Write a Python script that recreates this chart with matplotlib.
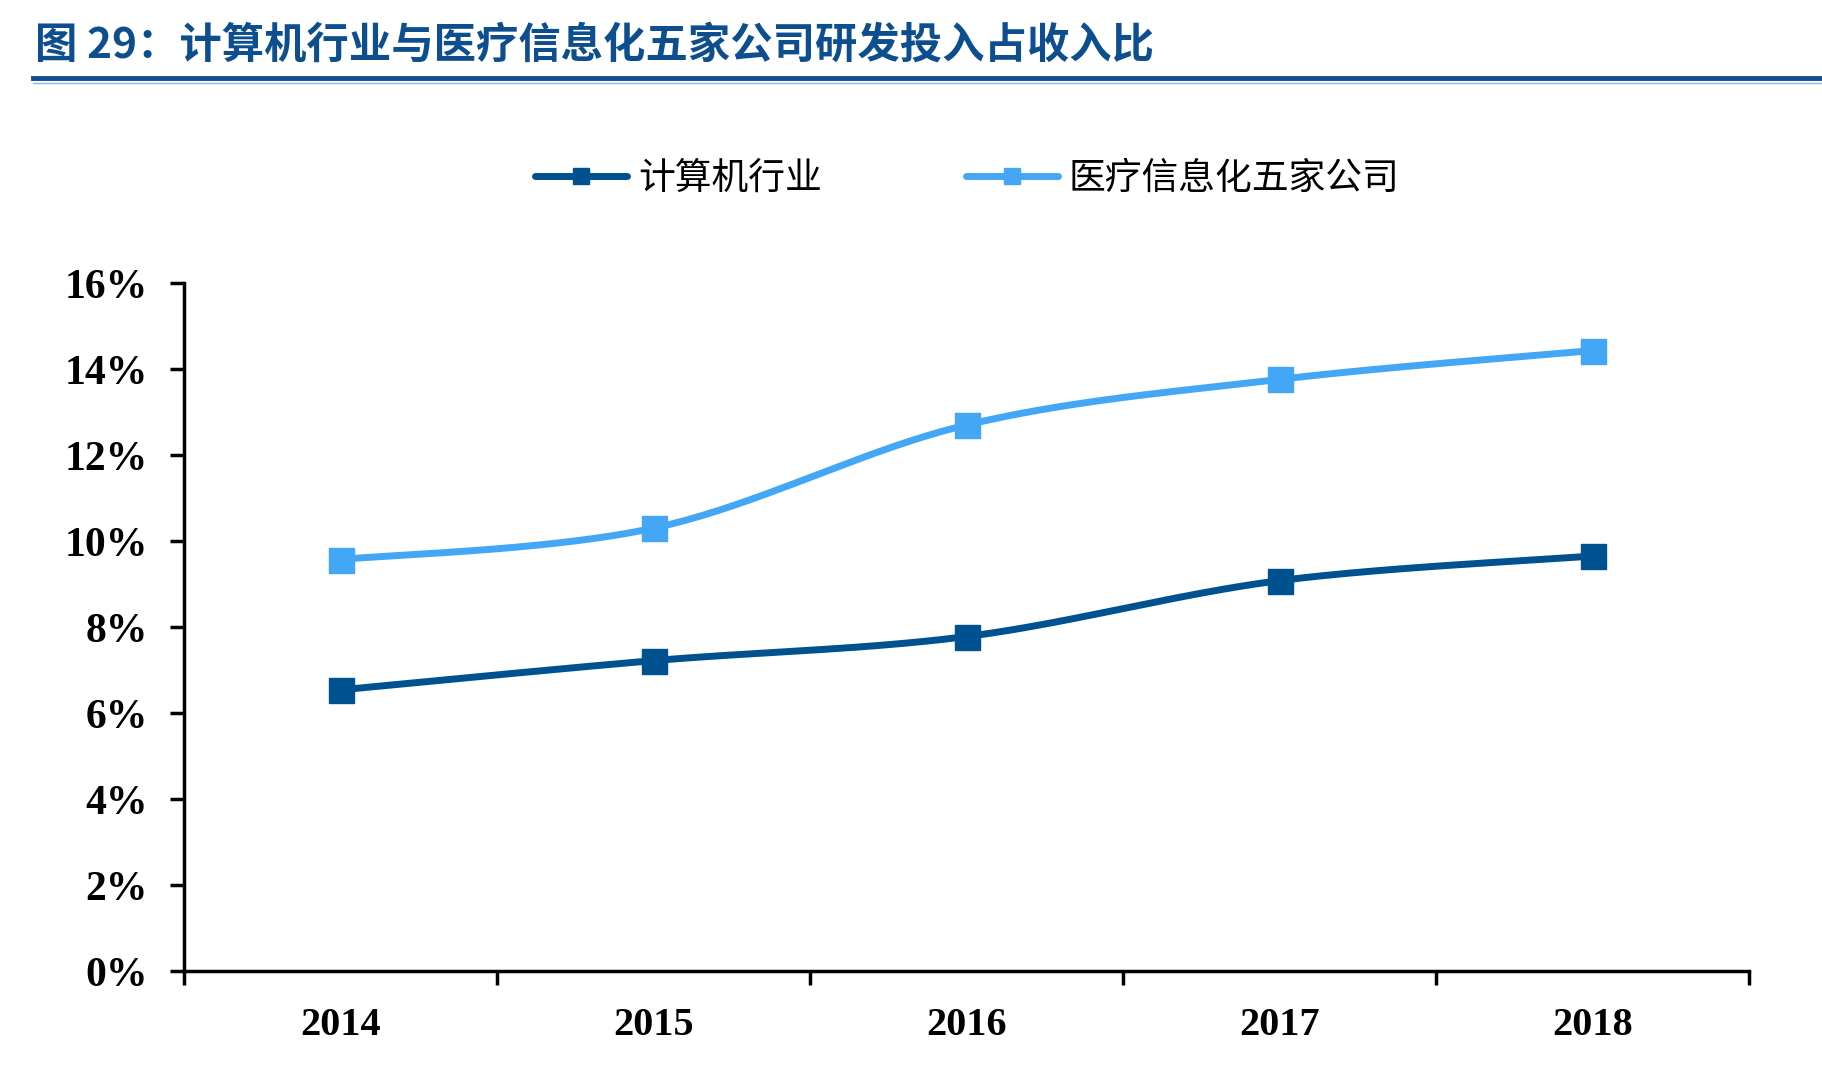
import numpy as np
import matplotlib.pyplot as plt
from matplotlib.lines import Line2D

plt.rcParams['font.family'] = ['Noto Sans CJK SC', 'DejaVu Sans']

# Data (%)
years = ['2014', '2015', '2016', '2017', '2018']
computer_industry = [6.54, 7.22, 7.78, 9.08, 9.65]
medical_it_five = [9.57, 10.30, 12.70, 13.76, 14.43]
series_names = ['计算机行业', '医疗信息化五家公司']
colors = ['#00518f', '#44a7f6']
yticks = [0, 2, 4, 6, 8, 10, 12, 14, 16]


def smooth(xs, ys, n=40):
    # Excel-style smoothed line: cubic Bezier with Catmull-Rom control points
    p = np.column_stack([xs, ys]).astype(float)
    pts = np.vstack([p[0], p, p[-1]])
    out = []
    t = np.linspace(0, 1, n)[:, None]
    for i in range(1, len(pts) - 2):
        p0, p1, p2, p3 = pts[i - 1], pts[i], pts[i + 1], pts[i + 2]
        c1 = p1 + (p2 - p0) / 6
        c2 = p2 - (p3 - p1) / 6
        seg = ((1 - t) ** 3) * p1 + 3 * ((1 - t) ** 2) * t * c1 + 3 * (1 - t) * t ** 2 * c2 + t ** 3 * p2
        out.append(seg if i == 1 else seg[1:])
    out = np.vstack(out)
    return out[:, 0], out[:, 1]


fig = plt.figure(figsize=(18.22, 10.66), dpi=100)
ax = fig.add_axes([0.101, 0.089, 0.859, 0.6455])

x = np.arange(len(years))
for vals, c in zip([computer_industry, medical_it_five], colors):
    sx, sy = smooth(x, vals)
    ax.plot(sx, sy, color=c, lw=5, solid_capstyle='round', zorder=3)
    ax.plot(x, vals, ls='none', marker='s', ms=18, color=c, zorder=4)

ax.set_xlim(-0.5, len(years) - 0.5)
ax.set_ylim(0, 16)
ax.set_yticks(yticks)
ax.set_yticklabels([f'{v}%' for v in yticks], family='Liberation Serif',
                   fontweight='bold', fontsize=30)
ax.set_xticks(np.arange(-0.5, len(years), 1.0))
ax.set_xticklabels([])
ax.set_xticks(x, minor=True)
ax.set_xticklabels(years, minor=True, family='Liberation Serif',
                   fontweight='bold', fontsize=29)
ax.tick_params(axis='x', which='minor', length=0, pad=26)
ax.tick_params(axis='x', which='major', direction='out', length=10, width=2.5)
ax.tick_params(axis='y', direction='out', length=10, width=2.5, pad=16)
for s in ['top', 'right']:
    ax.spines[s].set_visible(False)
for s in ['left', 'bottom']:
    ax.spines[s].set_linewidth(2.5)

# Legend
handles = [Line2D([0], [0], color=c, lw=5, marker='s', ms=12, solid_capstyle='round')
           for c in colors]
fig.legend(handles, series_names, loc='center', bbox_to_anchor=(0.531, 0.833),
           ncol=2, frameon=False, fontsize=26.5, handlelength=2.5,
           handletextpad=0.3, columnspacing=3.9)

# Title and rule
fig.text(0.019, 0.957, '图 29：计算机行业与医疗信息化五家公司研发投入占收入比',
         fontsize=30.5, fontweight='bold', color='#0d4f8e', va='center', ha='left')
fig.add_artist(Line2D([0.018, 1.0], [0.9265, 0.9265], color='#0d4f8e', lw=3.5,
                      transform=fig.transFigure))
fig.add_artist(Line2D([0.018, 1.0], [0.9225, 0.9225], color='#8fb6dc', lw=1,
                      transform=fig.transFigure))

plt.savefig('out.png', dpi=100)
